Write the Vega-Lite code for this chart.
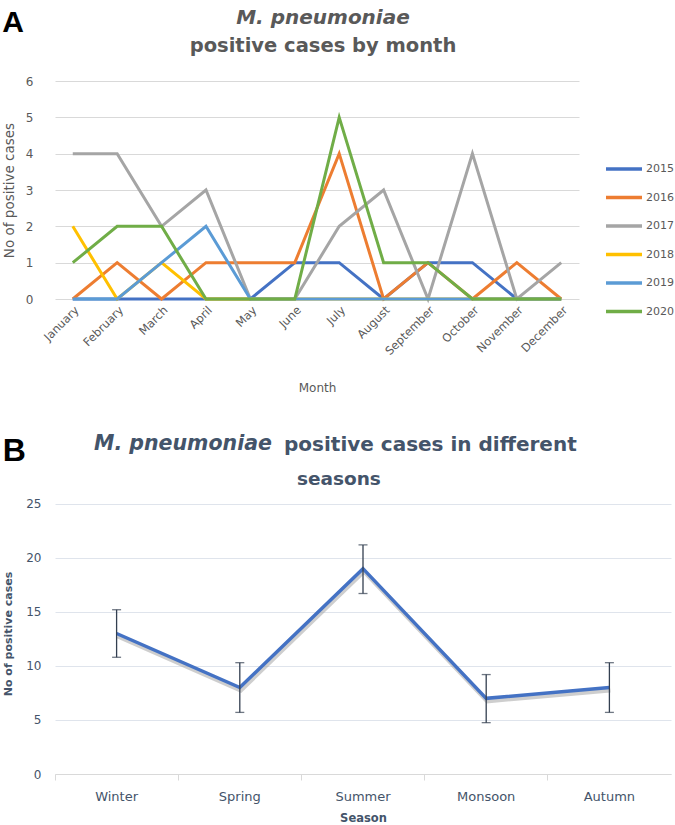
{
  "$schema": "https://vega.github.io/schema/vega-lite/v6.json",
  "background": "white",
  "padding": {"left": 2, "top": 7, "right": 8, "bottom": 0},
  "config": {
    "view": {"stroke": null},
    "font": "DejaVu Sans",
    "axis": {"labelFont": "DejaVu Sans", "titleFont": "DejaVu Sans"},
    "legend": {"labelFont": "DejaVu Sans"}
  },
  "datasets": {
    "monthly": [
      {"month": "January", "year": "2015", "cases": 0},
      {"month": "February", "year": "2015", "cases": 0},
      {"month": "March", "year": "2015", "cases": 0},
      {"month": "April", "year": "2015", "cases": 0},
      {"month": "May", "year": "2015", "cases": 0},
      {"month": "June", "year": "2015", "cases": 1},
      {"month": "July", "year": "2015", "cases": 1},
      {"month": "August", "year": "2015", "cases": 0},
      {"month": "September", "year": "2015", "cases": 1},
      {"month": "October", "year": "2015", "cases": 1},
      {"month": "November", "year": "2015", "cases": 0},
      {"month": "December", "year": "2015", "cases": 0},
      {"month": "January", "year": "2016", "cases": 0},
      {"month": "February", "year": "2016", "cases": 1},
      {"month": "March", "year": "2016", "cases": 0},
      {"month": "April", "year": "2016", "cases": 1},
      {"month": "May", "year": "2016", "cases": 1},
      {"month": "June", "year": "2016", "cases": 1},
      {"month": "July", "year": "2016", "cases": 4},
      {"month": "August", "year": "2016", "cases": 0},
      {"month": "September", "year": "2016", "cases": 1},
      {"month": "October", "year": "2016", "cases": 0},
      {"month": "November", "year": "2016", "cases": 1},
      {"month": "December", "year": "2016", "cases": 0},
      {"month": "January", "year": "2017", "cases": 4},
      {"month": "February", "year": "2017", "cases": 4},
      {"month": "March", "year": "2017", "cases": 2},
      {"month": "April", "year": "2017", "cases": 3},
      {"month": "May", "year": "2017", "cases": 0},
      {"month": "June", "year": "2017", "cases": 0},
      {"month": "July", "year": "2017", "cases": 2},
      {"month": "August", "year": "2017", "cases": 3},
      {"month": "September", "year": "2017", "cases": 0},
      {"month": "October", "year": "2017", "cases": 4},
      {"month": "November", "year": "2017", "cases": 0},
      {"month": "December", "year": "2017", "cases": 1},
      {"month": "January", "year": "2018", "cases": 2},
      {"month": "February", "year": "2018", "cases": 0},
      {"month": "March", "year": "2018", "cases": 1},
      {"month": "April", "year": "2018", "cases": 0},
      {"month": "May", "year": "2018", "cases": 0},
      {"month": "June", "year": "2018", "cases": 0},
      {"month": "July", "year": "2018", "cases": 0},
      {"month": "August", "year": "2018", "cases": 0},
      {"month": "September", "year": "2018", "cases": 0},
      {"month": "October", "year": "2018", "cases": 0},
      {"month": "November", "year": "2018", "cases": 0},
      {"month": "December", "year": "2018", "cases": 0},
      {"month": "January", "year": "2019", "cases": 0},
      {"month": "February", "year": "2019", "cases": 0},
      {"month": "March", "year": "2019", "cases": 1},
      {"month": "April", "year": "2019", "cases": 2},
      {"month": "May", "year": "2019", "cases": 0},
      {"month": "June", "year": "2019", "cases": 0},
      {"month": "July", "year": "2019", "cases": 0},
      {"month": "August", "year": "2019", "cases": 0},
      {"month": "September", "year": "2019", "cases": 0},
      {"month": "October", "year": "2019", "cases": 0},
      {"month": "November", "year": "2019", "cases": 0},
      {"month": "December", "year": "2019", "cases": 0},
      {"month": "January", "year": "2020", "cases": 1},
      {"month": "February", "year": "2020", "cases": 2},
      {"month": "March", "year": "2020", "cases": 2},
      {"month": "April", "year": "2020", "cases": 0},
      {"month": "May", "year": "2020", "cases": 0},
      {"month": "June", "year": "2020", "cases": 0},
      {"month": "July", "year": "2020", "cases": 5},
      {"month": "August", "year": "2020", "cases": 1},
      {"month": "September", "year": "2020", "cases": 1},
      {"month": "October", "year": "2020", "cases": 0},
      {"month": "November", "year": "2020", "cases": 0},
      {"month": "December", "year": "2020", "cases": 0}
    ],
    "seasons": [
      {"season": "Winter", "cases": 13, "lower": 10.8, "upper": 15.2},
      {"season": "Spring", "cases": 8, "lower": 5.7, "upper": 10.3},
      {"season": "Summer", "cases": 19, "lower": 16.7, "upper": 21.2},
      {"season": "Monsoon", "cases": 7, "lower": 4.75, "upper": 9.2},
      {"season": "Autumn", "cases": 8, "lower": 5.7, "upper": 10.3}
    ]
  },
  "spacing": 40,
  "columns": 1,
  "concat": [
    {
      "title": {"text": "A", "anchor": "start", "frame": "bounds", "font": "Liberation Sans", "fontSize": 30, "fontWeight": "bold", "color": "#000000", "offset": -30},
      "vconcat": [
        {
          "width": 524,
          "height": 218,
          "title": {
            "text": "M. pneumoniae",
            "subtitle": "positive cases by month",
            "anchor": "middle",
            "frame": "group",
            "dx": 6,
            "font": "DejaVu Sans",
            "fontSize": 20,
            "fontStyle": "italic",
            "fontWeight": "bold",
            "color": "#595959",
            "subtitleFont": "DejaVu Sans",
            "subtitleFontSize": 19.5,
            "subtitleFontWeight": "bold",
            "subtitleColor": "#595959",
            "subtitlePadding": 9,
            "offset": 20
          },
          "data": {"name": "monthly"},
          "mark": {"type": "line", "strokeWidth": 3},
          "encoding": {
            "x": {
              "field": "month",
              "type": "ordinal",
              "sort": ["January", "February", "March", "April", "May", "June", "July", "August", "September", "October", "November", "December"],
              "scale": {"type": "point", "padding": 0.4},
              "axis": {"title": "Month", "labelAngle": -45, "labelFontSize": 11.5, "labelColor": "#595959", "ticks": false, "domain": false, "labelPadding": 5, "titlePadding": 25, "titleFontSize": 12, "titleFontWeight": "normal", "titleColor": "#595959"}
            },
            "y": {
              "field": "cases",
              "type": "quantitative",
              "scale": {"domain": [0, 6]},
              "axis": {"title": "No of positive cases", "values": [0, 1, 2, 3, 4, 5, 6], "gridColor": "#d9d9d9", "labelFontSize": 12, "labelColor": "#595959", "labelPadding": 22, "titlePadding": 9, "titleFontSize": 13.5, "titleFontWeight": "normal", "titleColor": "#595959", "domain": false, "ticks": false}
            },
            "color": {
              "field": "year",
              "type": "nominal",
              "scale": {"domain": ["2015", "2016", "2017", "2018", "2019", "2020"], "range": ["#4472C4", "#ED7D31", "#A5A5A5", "#FFC000", "#5B9BD5", "#70AD47"]},
              "legend": {"title": null, "orient": "none", "legendX": 549, "legendY": 68, "symbolType": "stroke", "symbolSize": 1296, "symbolStrokeWidth": 3.5, "labelFontSize": 11, "labelColor": "#595959", "labelOffset": 2, "rowPadding": 1.5, "padding": 0}
            }
          }
        }
      ]
    },
    {
      "title": {"text": "B", "anchor": "start", "frame": "bounds", "font": "Liberation Sans", "fontSize": 32, "fontWeight": "bold", "color": "#000000", "offset": -34},
      "vconcat": [
        {
          "title": {"text": "M. pneumoniae", "anchor": "start", "frame": "group", "dx": 39, "font": "DejaVu Sans", "fontSize": 20.5, "fontStyle": "italic", "fontWeight": "bold", "color": "#44546A", "offset": -20},
          "vconcat": [
            {
              "width": 616,
              "height": 281,
              "title": {
                "text": "positive cases in different",
                "subtitle": "\u200b\u00a0\u00a0seasons",
                "anchor": "start",
                "frame": "group",
                "dx": 229,
                "font": "DejaVu Sans",
                "fontSize": 20,
                "fontWeight": "bold",
                "color": "#44546A",
                "subtitleFont": "DejaVu Sans",
                "subtitleFontSize": 18.5,
                "subtitleFontWeight": "bold",
                "subtitleColor": "#44546A",
                "subtitlePadding": 15,
                "offset": 5
              },
              "data": {"name": "seasons"},
              "encoding": {
                "x": {
                  "field": "season",
                  "type": "nominal",
                  "sort": ["Winter", "Spring", "Summer", "Monsoon", "Autumn"],
                  "scale": {"type": "band", "paddingInner": 0, "paddingOuter": 0},
                  "axis": {"title": "Season", "labelAngle": 0, "bandPosition": 0, "labelFontSize": 13, "labelColor": "#44546A", "labelPadding": 10, "ticks": true, "tickSize": 6, "tickColor": "#d9d9d9", "domain": true, "domainColor": "#d9d9d9", "titleFontSize": 11.5, "titleFontWeight": "bold", "titleColor": "#44546A", "titlePadding": 9}
                }
              },
              "layer": [
                {
                  "mark": {"type": "line", "color": "#a6a6a6", "opacity": 0.55, "strokeWidth": 4, "xOffset": 1, "yOffset": 3},
                  "encoding": {
                    "y": {"field": "cases", "type": "quantitative", "scale": {"domain": [0, 25]}, "title": "No of positive cases",
                      "axis": {"values": [0, 5, 10, 15, 20, 25], "gridColor": "#dfe4ec", "labelFontSize": 12, "labelColor": "#44546A", "labelPadding": 14, "titlePadding": 12, "titleFontSize": 11, "titleFontWeight": "bold", "titleColor": "#44546A", "domain": false, "ticks": false}}
                  }
                },
                {
                  "mark": {"type": "line", "color": "#4472C4", "strokeWidth": 3.5},
                  "encoding": {"y": {"field": "cases", "type": "quantitative", "title": "No of positive cases"}}
                },
                {
                  "mark": {"type": "errorbar", "color": "#333f50", "ticks": {"size": 9, "thickness": 1.3}, "rule": {"strokeWidth": 1.3}},
                  "encoding": {
                    "y": {"field": "lower", "type": "quantitative", "title": "No of positive cases"},
                    "y2": {"field": "upper"}
                  }
                }
              ]
            }
          ]
        }
      ]
    }
  ]
}
